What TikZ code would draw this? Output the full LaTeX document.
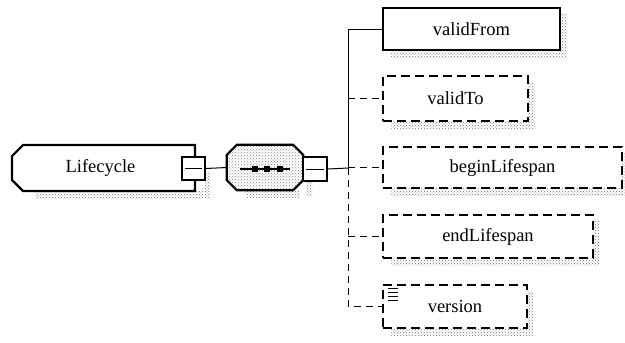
\documentclass[tikz,border=0pt]{standalone}
\usepackage{fontspec}
\setmainfont{Liberation Serif}
\usetikzlibrary{shapes.misc,backgrounds,patterns}
\tikzset{
  elem/.style={draw, line width=2.2pt, fill=white, inner sep=0pt,
    font=\fontsize{18.5}{20}\selectfont},
  optelem/.style={elem, line width=1.4pt, dash pattern=on 9pt off 5pt},
  minusbox/.style={draw, line width=1.8pt, fill=white, minimum width=23pt,
    minimum height=23pt, inner sep=0pt},
  conn/.style={line width=1pt},
  optconn/.style={conn, dash pattern=on 7pt off 5pt},
  shade/.style={pattern=crosshatch dots, pattern color=black!55},
}
\newcommand{\castshadow}[1]{%
  \fill[shade] ([xshift=9pt,yshift=-7pt]#1.north west)
    rectangle ([xshift=6pt,yshift=-7pt]#1.south east);}
\begin{document}
\begin{tikzpicture}[x=1pt,y=-1pt]
\useasboundingbox (0,0) rectangle (625,343);

% parent element with its collapse button
\node[elem, chamfered rectangle, chamfered rectangle corners={north west,south west},
  chamfered rectangle xsep=8pt, minimum width=183pt, minimum height=46pt]
  (lc) at (103.5,168) {\hspace*{-6pt}Lifecycle};
\node[minusbox] (lcm) at (193.5,168.5) {};
\draw[conn] ([xshift=4pt]lcm.west) -- ([xshift=-4pt]lcm.east);

% sequence compositor: octagon around an empty node
\node[minimum width=76pt, minimum height=45pt, inner sep=0pt] (seq) at (265,167.5) {};
\path[fill=white] ([xshift=10pt]seq.north west) -- ([xshift=-10pt]seq.north east)
  -- ([yshift=-10pt]seq.north east) -- ([yshift=10pt]seq.south east)
  -- ([xshift=-10pt]seq.south east) -- ([xshift=10pt]seq.south west)
  -- ([yshift=10pt]seq.south west) -- ([yshift=-10pt]seq.north west) -- cycle;
\draw[line width=2.2pt, pattern=crosshatch dots, pattern color=black!45]
  ([xshift=10pt]seq.north west) -- ([xshift=-10pt]seq.north east)
  -- ([yshift=-10pt]seq.north east) -- ([yshift=10pt]seq.south east)
  -- ([xshift=-10pt]seq.south east) -- ([xshift=10pt]seq.south west)
  -- ([yshift=10pt]seq.south west) -- ([yshift=-10pt]seq.north west) -- cycle;
\node[minusbox, minimum width=24pt, minimum height=24pt] (seqm) at (315,169) {};
\draw[conn] ([xshift=4pt]seqm.west) -- ([xshift=-4pt]seqm.east);
\coordinate (sqa) at (240,169);
\coordinate (sqb) at (290,169);
\draw[line width=1.5pt] (sqa) -- (sqb);
\foreach \sx in {255,267,280} \fill (\sx-3.2,165.8) rectangle (\sx+3.2,172.2);

% child elements
\node[elem, minimum width=177pt, minimum height=42pt] (vf) at (471.5,29) {validFrom};
\node[optelem, minimum width=145pt, minimum height=45pt] (vt) at (455.5,98.5) {validTo};
\node[optelem, minimum width=239pt, minimum height=41pt] (bl) at (502.5,167.5) {beginLifespan};
\node[optelem, minimum width=210pt, minimum height=43pt] (el) at (488,236.5) {endLifespan};
\node[optelem, minimum width=144pt, minimum height=43pt] (ve) at (455,306.5) {\raisebox{-3pt}{version}};

% documentation mark on version
\foreach \ly in {288,292,296,300} \draw[line width=1pt] (388,\ly) -- (398,\ly);

% shadows
\begin{scope}[on background layer]
  \fill[shade] (35,191) rectangle (203,198);
  \fill[shade] (205,172) rectangle (210,198);
  \fill[shade] (245,190) rectangle (300,197);
  \fill[shade] (305,181) rectangle (312,196);
  \castshadow{vf}
  \castshadow{vt}
  \castshadow{bl}
  \castshadow{el}
  \castshadow{ve}
\end{scope}

% connectors
\coordinate (sp) at (348,168);
\draw[conn] (lcm.east) -- (seq.west);
\draw[conn] (seqm.east) -- (sp);
\draw[conn] (sp) |- (vf.west);
\draw[optconn] (sp) |- (ve.west);
\draw[optconn] (sp |- vt.west) -- (vt.west);
\draw[optconn] (sp |- bl.west) -- (bl.west);
\draw[optconn] (sp |- el.west) -- (el.west);
\end{tikzpicture}
\end{document}
